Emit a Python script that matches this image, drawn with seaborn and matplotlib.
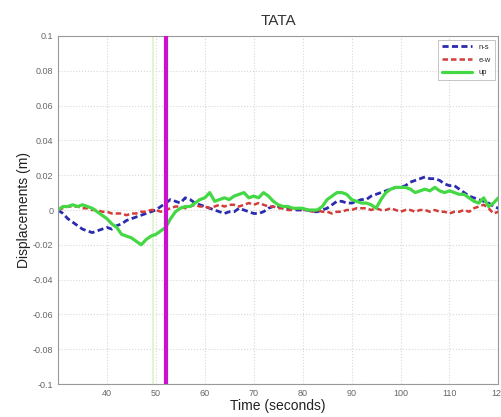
import numpy as np
import pandas as pd
import matplotlib
matplotlib.use("Agg")
import matplotlib.pyplot as plt
import seaborn as sns

time = list(range(30, 121))

ns = [0.000, -0.002, -0.005, -0.007, -0.009, -0.011, -0.012, -0.013, -0.012, -0.011,
      -0.010, -0.011, -0.009, -0.008, -0.006, -0.005, -0.004, -0.003, -0.002, -0.001,
      0.000, 0.002, 0.004, 0.006, 0.005, 0.004, 0.007, 0.006, 0.004, 0.003,
      0.002, 0.001, 0.000, -0.001, -0.002, -0.001, -0.001, 0.001, 0.000, -0.001,
      -0.002, -0.002, -0.001, 0.001, 0.002, 0.002, 0.001, 0.001, 0.000, 0.000,
      0.000, 0.000, -0.001, -0.001, 0.000, 0.001, 0.003, 0.005, 0.005, 0.004,
      0.004, 0.005, 0.006, 0.006, 0.008, 0.009, 0.010, 0.011, 0.012, 0.013,
      0.013, 0.014, 0.016, 0.017, 0.018, 0.019, 0.018, 0.018, 0.017, 0.015,
      0.014, 0.014, 0.012, 0.010, 0.008, 0.007, 0.006, 0.005, 0.004, 0.002,
      0.001]

ew = [0.000, 0.001, 0.002, 0.002, 0.002, 0.001, 0.001, 0.000, 0.000, -0.001,
      -0.001, -0.002, -0.002, -0.002, -0.003, -0.002, -0.002, -0.001, -0.001, 0.000,
      0.000, -0.001, 0.000, 0.001, 0.002, 0.002, 0.001, 0.002, 0.003, 0.002,
      0.002, 0.001, 0.002, 0.003, 0.002, 0.003, 0.003, 0.002, 0.003, 0.004,
      0.003, 0.004, 0.003, 0.002, 0.002, 0.001, 0.001, 0.000, 0.000, 0.001,
      0.000, 0.000, -0.001, 0.000, -0.001, -0.001, -0.002, -0.001, -0.001, 0.000,
      0.000, 0.001, 0.001, 0.001, 0.000, 0.001, 0.000, 0.000, 0.001, 0.000,
      -0.001, 0.000, 0.000, -0.001, 0.000, 0.000, -0.001, 0.000, -0.001, -0.001,
      -0.002, -0.001, -0.001, 0.000, -0.001, 0.001, 0.002, 0.003, 0.001, -0.002,
      -0.001]

up = [0.000, 0.002, 0.002, 0.003, 0.002, 0.003, 0.002, 0.001, -0.001, -0.003,
      -0.005, -0.008, -0.010, -0.014, -0.015, -0.016, -0.018, -0.020, -0.017, -0.015,
      -0.014, -0.012, -0.010, -0.005, -0.001, 0.001, 0.002, 0.002, 0.004, 0.006,
      0.007, 0.010, 0.005, 0.006, 0.007, 0.006, 0.008, 0.009, 0.010, 0.007,
      0.008, 0.007, 0.010, 0.008, 0.005, 0.003, 0.002, 0.002, 0.001, 0.001,
      0.001, 0.000, 0.000, 0.000, 0.002, 0.006, 0.008, 0.010, 0.010, 0.009,
      0.006, 0.005, 0.004, 0.004, 0.003, 0.001, 0.006, 0.010, 0.012, 0.013,
      0.013, 0.013, 0.012, 0.010, 0.011, 0.012, 0.011, 0.013, 0.011, 0.010,
      0.011, 0.010, 0.009, 0.009, 0.007, 0.005, 0.004, 0.007, 0.002, 0.004,
      0.007]

series_names = ["n-s", "e-w", "up"]
event_time = 52
faint_time = 49.5
xticks = [40, 50, 60, 70, 80, 90, 100, 110, 120]
yticks = [-0.1, -0.08, -0.06, -0.04, -0.02, 0, 0.02, 0.04, 0.06, 0.08, 0.1]
ytick_labels = ["-0.1", "-0.08", "-0.06", "-0.04", "-0.02", "0", "0.02", "0.04", "0.06", "0.08", "0.1"]

sns.set_style("white")
plt.rcParams['font.family'] = ['Liberation Sans', 'DejaVu Sans']

fig = plt.figure(figsize=(5.01, 4.17), dpi=100)
ax = fig.add_axes([0.1158, 0.0791, 0.879, 0.8346])

df = pd.DataFrame({"time": time, "n-s": ns, "e-w": ew, "up": up})

sns.lineplot(data=df, x="time", y="n-s", ax=ax, color="#2b2bb0", linestyle=(0, (2.2, 1.2)),
             linewidth=2.0, label="n-s")
sns.lineplot(data=df, x="time", y="e-w", ax=ax, color="#d43c3c", linestyle=(0, (2.2, 1.2)),
             linewidth=1.8, label="e-w")
sns.lineplot(data=df, x="time", y="up", ax=ax, color="#44d844", linestyle="-",
             linewidth=2.3, label="up")

ax.axvline(faint_time, color="#d8f5c8", linewidth=1.2, zorder=1)
ax.axvline(event_time, color="#cc11cc", linewidth=3.0, zorder=5)

ax.set_xlim(30, 120)
ax.set_ylim(-0.1, 0.1)
ax.set_xticks(xticks)
ax.set_xticklabels([str(t) for t in xticks])
ax.set_yticks(yticks)
ax.set_yticklabels(ytick_labels)
ax.tick_params(axis="both", direction="in", labelsize=6.5, length=3, colors="#666666",
               labelcolor="#666666")
ax.grid(True, color="#d8d8d8", linestyle=":", linewidth=0.8)
for s in ax.spines.values():
    s.set_color("#999999")
    s.set_linewidth(0.8)

ax.set_title("TATA", fontsize=11, color="#333333", pad=8)
ax.set_xlabel("Time (seconds)", fontsize=10, color="#222222", labelpad=1)
ax.set_ylabel("Displacements (m)", fontsize=10, color="#222222", labelpad=1)

leg = ax.legend(loc="upper right", fontsize=5.5, frameon=True, fancybox=False,
                handlelength=4.0, borderpad=0.5, labelspacing=0.7)
leg.get_frame().set_edgecolor("#aaaaaa")
leg.get_frame().set_linewidth(0.6)

fig.savefig("out.png", dpi=100)
